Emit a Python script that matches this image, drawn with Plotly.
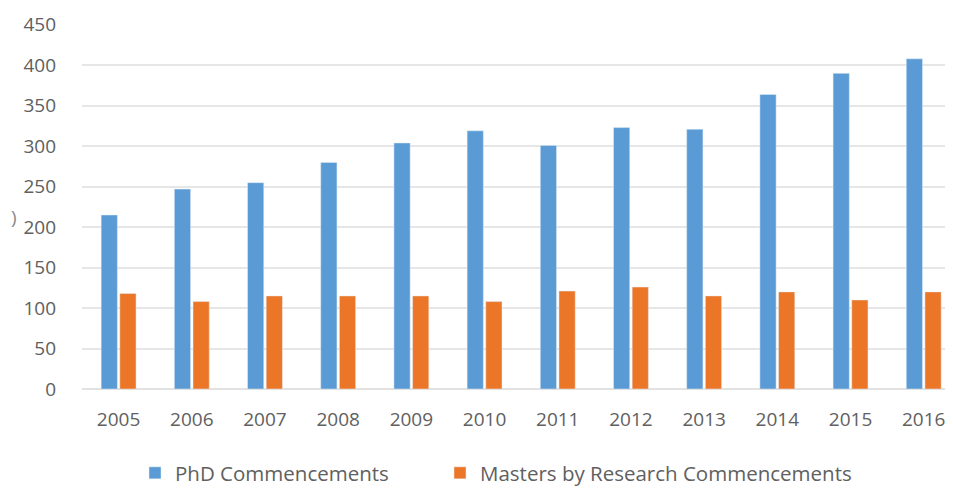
import plotly.graph_objects as go

years = ["2005", "2006", "2007", "2008", "2009", "2010", "2011", "2012", "2013", "2014", "2015", "2016"]
phd = [215, 247, 255, 280, 304, 319, 301, 323, 321, 364, 390, 408]
masters = [118, 108, 115, 115, 115, 108, 121, 126, 115, 120, 110, 120]
y_ticks = [0, 50, 100, 150, 200, 250, 300, 350, 400, 450]

# page body adds an 8px offset, so the figure is 8px smaller than the window
W, H = 945, 480
L, T, B = 74, 16, 99
fig = go.Figure()
fig.add_trace(go.Bar(x=years, y=phd, name="PhD Commencements", marker_color="#5B9BD5",
                     legend="legend"))
fig.add_trace(go.Bar(x=years, y=masters, name="Masters by Research Commencements",
                     marker_color="#EB7627", legend="legend2"))

leg_common = dict(orientation="h", xref="container", yref="container", yanchor="middle",
                  font=dict(family="Open Sans", size=20.5, color="#606060"), itemwidth=30,
                  bgcolor="rgba(0,0,0,0)")
fig.update_layout(
    width=W, height=H,
    margin=dict(l=L, r=0, t=T, b=B, autoexpand=False),
    paper_bgcolor="white", plot_bgcolor="white",
    barmode="group", bargap=0.49, bargroupgap=0.13,
    font=dict(family="Open Sans", color="#606060"),
    showlegend=True,
    legend=dict(x=127 / W, y=1 - 465 / H, **leg_common),
    legend2=dict(x=432 / W, y=1 - 465 / H, **leg_common),
    xaxis=dict(type="category", range=[-0.5, 11.4], showgrid=False, showline=False,
               automargin=False, ticks="", tickfont=dict(size=19, color="#606060"),
               ticklabelstandoff=17),
    yaxis=dict(range=[0, 451], tickvals=y_ticks, showgrid=True, gridcolor="#E6E6E6",
               gridwidth=1.5, zeroline=True, zerolinecolor="#E2E2E2", zerolinewidth=1.5,
               showline=False, ticks="", automargin=False,
               tickfont=dict(size=19, color="#606060"), ticklabelstandoff=25),
)
fig.add_annotation(text=")", xref="paper", yref="paper", x=(1 - L) / (W - L), xanchor="left",
                   y=(H - B - 209) / (H - T - B), yanchor="middle", showarrow=False,
                   font=dict(family="Open Sans", size=19, color="#8a8a8a"))
fig.write_html("out.html")
